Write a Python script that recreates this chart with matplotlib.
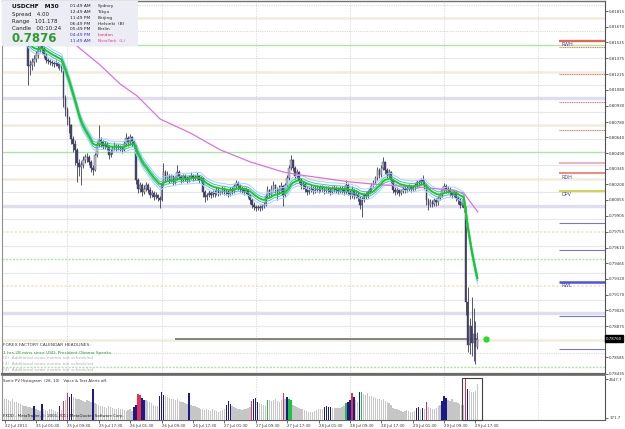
import matplotlib
matplotlib.use("Agg")
import matplotlib.pyplot as plt
import numpy as np
import pandas as pd
from matplotlib.patches import Rectangle

# prices are kept in pips above 0.7800
BASE = 0.78
PIP = 0.0001

closes = [
    356, 358, 355, 357, 360, 358, 356, 357, 355, 356,
    354, 355, 330, 331, 334, 337, 341, 345, 350, 347,
    341, 336, 335, 334, 333, 332, 333, 330, 331, 328,
    300, 290, 282, 275, 262, 258, 252, 240, 236, 238,
    243, 245, 245, 241, 235, 233, 247, 257, 261, 259,
    256, 257, 255, 247, 250, 254, 256, 254, 255, 254,
    252, 258, 263, 259, 264, 259, 257, 224, 216, 219,
    213, 216, 219, 215, 210, 212, 208, 210, 207, 205,
    219, 231, 226, 229, 224, 228, 222, 226, 231, 228,
    224, 228, 226, 224, 227, 228, 226, 227, 228, 224,
    226, 213, 208, 210, 212, 210, 213, 211, 215, 212,
    213, 215, 213, 213, 211, 215, 214, 218, 221, 218,
    216, 215, 213, 215, 210, 205, 201, 199, 198, 199,
    198, 200, 201, 209, 215, 210, 216, 219, 215, 213,
    216, 218, 210, 219, 226, 235, 243, 235, 228, 231,
    224, 219, 220, 216, 213, 215, 216, 214, 215, 216,
    215, 217, 216, 214, 216, 215, 213, 216, 216, 215,
    214, 216, 215, 213, 219, 213, 210, 215, 209, 211,
    207, 201, 205, 210, 209, 213, 216, 219, 222, 226,
    233, 229, 235, 241, 233, 229, 231, 224, 215, 213,
    215, 212, 214, 216, 215, 216, 218, 216, 217, 219,
    222, 221, 224, 222, 219, 205, 201, 203, 202, 205,
    203, 207, 210, 215, 218, 215, 216, 212, 210, 213,
    207, 205, 201, 203, 198, 110, 70, 88, 72, 80,
    68, 76,
]

highs = [
    359, 361, 359, 360, 363, 361, 359, 360, 358, 359,
    357, 357, 356, 336, 338, 341, 344, 349, 356, 353,
    348, 342, 338, 337, 336, 335, 336, 334, 333, 332,
    329, 303, 292, 284, 276, 265, 261, 254, 244, 242,
    246, 248, 249, 247, 243, 238, 249, 259, 275, 264,
    261, 260, 259, 256, 253, 256, 259, 258, 258, 257,
    256, 260, 268, 265, 267, 265, 261, 258, 226, 222,
    221, 219, 222, 221, 217, 215, 214, 213, 211, 209,
    221, 240, 233, 232, 230, 230, 229, 228, 238, 233,
    229, 230, 230, 228, 229, 231, 230, 229, 231, 229,
    228, 227, 215, 212, 215, 214, 215, 215, 217, 217,
    215, 218, 217, 216, 215, 217, 217, 220, 224, 223,
    220, 218, 217, 217, 216, 211, 207, 203, 201, 201,
    201, 202, 203, 211, 218, 216, 219, 223, 220, 217,
    219, 222, 219, 221, 229, 238, 247, 244, 237, 234,
    232, 226, 223, 222, 218, 217, 219, 218, 218, 219,
    218, 219, 219, 218, 218, 218, 217, 218, 219, 218,
    217, 218, 218, 217, 224, 221, 215, 218, 216, 214,
    213, 209, 208, 212, 213, 215, 218, 221, 224, 228,
    236, 235, 238, 245, 242, 235, 234, 232, 225, 217,
    217, 216, 216, 218, 218, 218, 220, 219, 219, 221,
    224, 224, 226, 229, 224, 220, 207, 206, 205, 207,
    207, 209, 212, 217, 221, 220, 218, 217, 214, 215,
    214, 209, 207, 205, 205, 200, 124, 95, 115, 105,
    92, 82,
]

lows = [
    353, 354, 352, 353, 355, 355, 353, 354, 352, 353,
    351, 351, 313, 322, 327, 330, 334, 338, 343, 342,
    338, 333, 332, 331, 330, 329, 330, 328, 327, 325,
    292, 284, 275, 268, 258, 250, 238, 222, 228, 219,
    235, 240, 241, 238, 231, 229, 232, 245, 255, 255,
    253, 253, 252, 244, 245, 248, 252, 251, 252, 251,
    249, 251, 256, 256, 257, 256, 254, 220, 212, 213,
    209, 211, 214, 212, 207, 208, 205, 206, 204, 198,
    204, 218, 223, 224, 221, 222, 219, 220, 224, 225,
    221, 222, 223, 221, 222, 225, 223, 224, 225, 221,
    222, 208, 203, 205, 208, 207, 208, 208, 210, 209,
    210, 211, 210, 210, 208, 209, 211, 212, 216, 215,
    213, 212, 210, 211, 207, 202, 198, 196, 195, 196,
    195, 196, 198, 200, 207, 207, 208, 214, 212, 205,
    211, 214, 200, 208, 217, 224, 233, 232, 225, 226,
    221, 216, 216, 213, 210, 211, 213, 211, 212, 213,
    212, 213, 213, 211, 212, 212, 210, 211, 213, 212,
    211, 212, 212, 210, 211, 210, 206, 207, 206, 207,
    204, 197, 189, 203, 206, 207, 211, 214, 217, 220,
    224, 226, 227, 233, 230, 226, 227, 221, 212, 210,
    211, 209, 210, 212, 212, 213, 214, 213, 214, 215,
    217, 218, 219, 219, 216, 201, 196, 199, 199, 200,
    200, 201, 205, 208, 212, 212, 212, 209, 207, 208,
    204, 202, 198, 199, 194, 98, 64, 62, 60, 55,
    52, 66,
]

volumes = [
    1400, 1350, 1300, 1250, 1380, 1200, 1150, 1100, 1050, 1000,
    950, 900, 880, 850, 800, 900, 700, 650, 600, 1050,
    700, 650, 600, 750, 700, 650, 600, 550, 920, 650,
    1265, 1300, 1785, 1525, 1700, 1500, 1450, 1400, 1350, 1300,
    1250, 1200, 1300, 1250, 1200, 2000, 1100, 1050, 1000, 950,
    900, 850, 800, 900, 850, 800, 750, 700, 800, 750,
    700, 650, 600, 650, 700, 600, 855, 1000, 1700, 1635,
    1420, 1310, 1300, 1250, 1200, 1100, 1000, 950, 900, 1570,
    1810, 1635, 1550, 1500, 1450, 1400, 1350, 1300, 1350, 1250,
    1200, 1150, 1100, 1050, 1765, 1000, 950, 900, 850, 800,
    750, 700, 650, 700, 650, 600, 700, 650, 600, 550,
    600, 650, 700, 985, 1265, 1050, 900, 850, 800, 750,
    700, 650, 700, 750, 800, 850, 1265, 1375, 1460, 1180,
    1100, 1050, 1000, 950, 1310, 1300, 1250, 1300, 1350, 1250,
    1200, 1300, 1785, 1400, 1525, 1400, 1310, 1000, 900, 850,
    800, 750, 700, 650, 600, 550, 500, 550, 600, 650,
    700, 750, 700, 870, 900, 850, 880, 800, 780, 760,
    800, 820, 850, 900, 1100, 1200, 1310, 1750, 1500, 1300,
    1200, 1850, 1800, 1700, 1650, 1750, 1600, 1550, 1500, 1450,
    1400, 1350, 1300, 1400, 1250, 1200, 1100, 1000, 800, 750,
    700, 650, 600, 550, 600, 650, 600, 550, 500, 600,
    770, 870, 700, 810, 750, 1200, 850, 800, 750, 700,
    800, 900, 1000, 1250, 1570, 1460, 1300, 1250, 1350, 1200,
    1150, 1100, 1050, 1000, 1000, 2647, 2000, 1900, 1850, 1800,
    1900, 2350,
]

# histogram colour per bar: . grey, b blue, r red, g green
vol_codes = (
    ".........." ".....b...b" "........b." "r.rbb....." ".....b...."
    ".........." "......bbrr" "bb.......b" "bb........" "....b....."
    ".........." "...bbb...." "......rbbb" "....g....." "..r.bgg..."
    ".........." "...bbbb..." "....gbbrb." ".bg......." ".........."
    ".........." "bb.b.r...." "...bbb...." ".....rb..." ".."
)

# long moving average (purple), read as points
purple_bar = [25.7, 37.5, 48.7, 58.9, 67.6, 79.3, 94.7, 110.0, 125.3, 142.1,
              150.8, 176.3, 193.2, 210.5, 227.4, 234.0, 241.2]
purple_pips = [365.7, 348.0, 331.2, 313.5, 302.3, 280.8, 267.8, 252.0, 240.8, 231.4,
               228.6, 222.1, 219.3, 217.4, 214.6, 211.8, 194.1]

# level lines across the chart
whole_levels = [100, 200, 300]
half_levels = [250, 350]
half_levels_dotted = [50, 150]
quarter_levels = [75, 225, 275, 325, 375]
quarter_levels_dotted = [125, 175]
eighth_levels = [87.5, 112.5, 137.5, 162.5, 187.5, 212.5, 237.5, 262.5, 287.5, 312.5, 337.5]
eighth_levels_dotted = [62.5, 362.5, 387.5]

# pivot markers on the right
rwh = 353.9
red_pivots = [347.7, 322.8, 296.4, 270.6]
pink_level = 240.1
rdh = 230.2
dpv = 214.0
blue_pivots = [183.6, 158.4, 96.9, 66.4]
rwl = 129.1

CURRENT = 76.0
price_ticks = [0.81815, 0.81670, 0.81525, 0.81375, 0.81225, 0.81080, 0.80930, 0.80780,
               0.80640, 0.80490, 0.80345, 0.80200, 0.80055, 0.79905, 0.79755, 0.79610,
               0.79465, 0.79320, 0.79170, 0.79025, 0.78875, 0.78730, 0.78585, 0.78435]

time_ticks = list(range(0, 241, 16))
time_labels = ["22 Jul 2011", "25 Jul 01:30", "25 Jul 09:30", "25 Jul 17:30",
               "26 Jul 01:30", "26 Jul 09:30", "26 Jul 17:30", "27 Jul 01:30",
               "27 Jul 09:30", "27 Jul 17:30", "28 Jul 01:30", "28 Jul 09:30",
               "28 Jul 17:30", "29 Jul 01:30", "29 Jul 09:30", "29 Jul 17:30"]
grid_bars = [32, 80, 128, 176, 224, 272]

W, H = 625, 429


def fx(px):
    return px / W


def fy(py):
    return 1 - py / H


fig = plt.figure(figsize=(6.25, 4.29), dpi=100, facecolor="white")
ax = fig.add_axes([fx(2), fy(373.5), fx(605) - fx(2), fy(1) - fy(373.5)])
vax = fig.add_axes([fx(2), fy(420), fx(605) - fx(2), fy(375.5) - fy(420)], sharex=ax)

bars = np.arange(len(closes))
c = np.array(closes, dtype=float)
o = np.array([closes[0]] + closes[:-1], dtype=float)
hi = np.array(highs, dtype=float)
lo = np.array(lows, dtype=float)

# level lines
for y in whole_levels:
    ax.axhline(y, color="#dedef0", lw=2.4, zorder=1)
for y in half_levels:
    ax.axhline(y, color="#a8e8a0", lw=1.0, zorder=1)
for y in half_levels_dotted:
    ax.axhline(y, color="#a8e8a0", lw=1.0, ls=(0, (1.5, 1)), zorder=1)
for y in quarter_levels:
    ax.axhline(y, color="#f2ecdc", lw=1.8, zorder=1)
for y in quarter_levels_dotted:
    ax.axhline(y, color="#f2e6cc", lw=1.2, ls=(0, (1.5, 1)), zorder=1)
for y in eighth_levels:
    ax.axhline(y, color="#e6e6ee", lw=0.8, zorder=1)
for y in eighth_levels_dotted:
    ax.axhline(y, color="#d8d8e2", lw=0.8, ls=(0, (1, 1)), zorder=1)

for b in grid_bars:
    ax.axvline(b, color="#d4d4e2", lw=0.6, ls=(0, (1.5, 1.5)), zorder=1)
    vax.axvline(b, color="#d4d4e2", lw=0.6, ls=(0, (1.5, 1.5)), zorder=1)

# pivot segments on the right
x0, x1 = 282.5, 306
ax.hlines(rwh, x0, x1, color="#f06050", lw=1.6, zorder=2)
ax.hlines(red_pivots, x0, x1, color="#f07060", lw=0.8, ls=(0, (1, 0.6)), zorder=2)
ax.hlines(pink_level, x0, x1, color="#e4b8c0", lw=1.5, zorder=2)
ax.hlines(rdh, x0, x1, color="#f08070", lw=1.3, zorder=2)
ax.hlines(dpv, x0, x1, color="#c8c820", lw=1.1, zorder=2)
ax.hlines(blue_pivots, x0, x1, color="#7878c8", lw=0.8, zorder=2)
ax.hlines(rwl, x0, x1, color="#5050e8", lw=1.8, zorder=2)
for y, name in [(rwh, "RWH"), (rdh, "RDH"), (dpv, "DPV"), (rwl, "RWL")]:
    ax.text(x0 + 1.5, y - 1.2, name, fontsize=3.5, color="#4a4a8a", va="top", zorder=3)

# current price line
ax.hlines(CURRENT, 86.7, 241, color="#7a7a7a", lw=1.3, zorder=3)

# candles
wick = "#3a3a5c"
ax.vlines(bars, lo, hi, color=wick, lw=0.6, zorder=4)
up = c >= o
body_lo = np.minimum(o, c)
body_h = np.maximum(np.abs(c - o), 0.4)
ax.bar(bars[up], body_h[up], bottom=body_lo[up], width=0.8, color="#c4c4d4",
       edgecolor=wick, lw=0.3, zorder=5)
ax.bar(bars[~up], body_h[~up], bottom=body_lo[~up], width=0.8, color="#46466a",
       edgecolor=wick, lw=0.3, zorder=5)

# moving averages
ema = pd.Series(c).ewm(span=16, adjust=False).mean().values
ax.plot(bars, ema + 5.0, color="#a8d4f4", lw=0.7, zorder=6)
ax.plot(bars, ema - 5.0, color="#a8d4f4", lw=0.7, zorder=6)
ax.plot(bars, ema + 2.5, color="#50b0e8", lw=0.7, zorder=6)
ax.plot(bars, ema - 2.5, color="#50b0e8", lw=0.7, zorder=6)
ax.plot(bars, ema, color="#10d010", lw=1.4, zorder=7)
ax.plot(purple_bar, purple_pips, color="#e070e0", lw=0.9, zorder=6)

ax.plot([245.5], [CURRENT], "o", color="#20e020", ms=3.5, zorder=8)

ax.set_xlim(-1.3, 306.0)
ax.set_ylim(43.5, 390.9)
ax.yaxis.tick_right()
ax.set_yticks([(p - BASE) / PIP for p in price_ticks])
ax.set_yticklabels([f"{p:.5f}" for p in price_ticks])
ax.tick_params(axis="y", labelsize=2.8, colors="#303030", length=2, width=0.5, pad=1)
ax.tick_params(axis="x", bottom=False, labelbottom=False)
ax.set_facecolor("white")
for side, lw, col in [("top", 1.0, "#707070"), ("left", 0.8, "#909090"),
                      ("right", 0.8, "#505050"), ("bottom", 1.6, "#6a6a6a")]:
    ax.spines[side].set_linewidth(lw)
    ax.spines[side].set_color(col)

ax.text(1.002, CURRENT, f"{BASE + CURRENT * PIP:.5f}", transform=ax.get_yaxis_transform(),
        fontsize=2.8, color="white", va="center", ha="left", zorder=9,
        bbox=dict(boxstyle="square,pad=0.3", fc="black", ec="black"))

# volume histogram
cmap = {".": "#c6c6c6", "b": "#1a1a8c", "r": "#e8304a", "g": "#20c040"}
vax.bar(bars, volumes, width=0.7, color=[cmap[k] for k in vol_codes], zorder=3)
vax.add_patch(Rectangle((233.0, 9.5), 10.2, 2730, fill=False, ec="#404040", lw=0.8,
                        zorder=4, clip_on=False))
vax.set_ylim(9.5, 2902)
vax.yaxis.tick_right()
vax.set_yticks([2647.7, 171.7])
vax.set_yticklabels(["2647.7", "171.7"])
vax.tick_params(axis="y", labelsize=2.8, colors="#303030", length=2, width=0.5, pad=1)
vax.set_xticks(time_ticks)
vax.set_xticklabels(time_labels)
vax.tick_params(axis="x", labelsize=2.8, colors="#303030", length=2, width=0.5, pad=0.8)
for lab in vax.get_xticklabels():
    lab.set_ha("left")
for side, lw, col in [("top", 1.2, "#6a6a6a"), ("left", 0.8, "#909090"),
                      ("right", 0.8, "#505050"), ("bottom", 0.8, "#606060")]:
    vax.spines[side].set_linewidth(lw)
    vax.spines[side].set_color(col)

# info box
fig.add_artist(Rectangle((fx(2), fy(46)), fx(138) - fx(2), fy(1) - fy(46),
                         transform=fig.transFigure, fc="#ececf4", ec="none", zorder=10))
fig.text(fx(12), fy(6), "USDCHF   M30", fontsize=4.2, weight="bold", color="#101010",
         va="center", zorder=11)
for py, txt in [(14.3, "Spread   4.00"), (21, "Range   101.178"), (28.3, "Candle   00:10:24")]:
    fig.text(fx(12), fy(py), txt, fontsize=4.0, color="#202020", va="center", zorder=11)
fig.text(fx(11), fy(38), "0.7876", fontsize=8.5, weight="bold", color="#2e9a2e",
         va="center", zorder=11)
clock = [("01:49 AM", "Sydney", "#202020", "#202020"),
         ("12:49 AM", "Tokyo", "#202020", "#202020"),
         ("11:49 PM", "Beijing", "#202020", "#202020"),
         ("06:49 PM", "Helsinki  (B)", "#202020", "#202020"),
         ("05:49 PM", "Berlin", "#202020", "#202020"),
         ("04:49 PM", "London", "#3030e0", "#e03060"),
         ("11:49 AM", "NewYork  (L)", "#3030e0", "#e040a0")]
for i, (t, city, tc, cc) in enumerate(clock):
    py = 6 + i * 5.85
    fig.text(fx(70), fy(py), t, fontsize=3.2, color=tc, va="center", zorder=11)
    fig.text(fx(97.5), fy(py), city, fontsize=3.2, color=cc, va="center", zorder=11)

# calendar headlines
fig.text(fx(3), fy(345), "FOREX FACTORY CALENDAR HEADLINES:", fontsize=3.2,
         color="#404040", va="center", zorder=11)
fig.text(fx(3), fy(352.7), "1 hrs 28 mins since USD: President Obama Speaks", fontsize=3.1,
         color="#22a022", va="center", zorder=11)
for i, py in enumerate([358.3, 364.0, 369.7]):
    fig.text(fx(3), fy(py), f"({i + 2})  Additional news events not scheduled", fontsize=3.1,
             color="#b0b0b0", va="center", zorder=11)

fig.text(fx(3), fy(381), "Sonic PV Histogram  (28, 10)   Voice & Text Alerts off.",
         fontsize=2.8, color="#303030", va="center", zorder=11)
fig.text(fx(3), fy(416), "FXDD - MetaTrader, \u00a9 2001-2011 MetaQuotes Software Corp.",
         fontsize=2.8, color="#202020", va="center", zorder=11)

fig.savefig("out.png", dpi=100, facecolor="white")
